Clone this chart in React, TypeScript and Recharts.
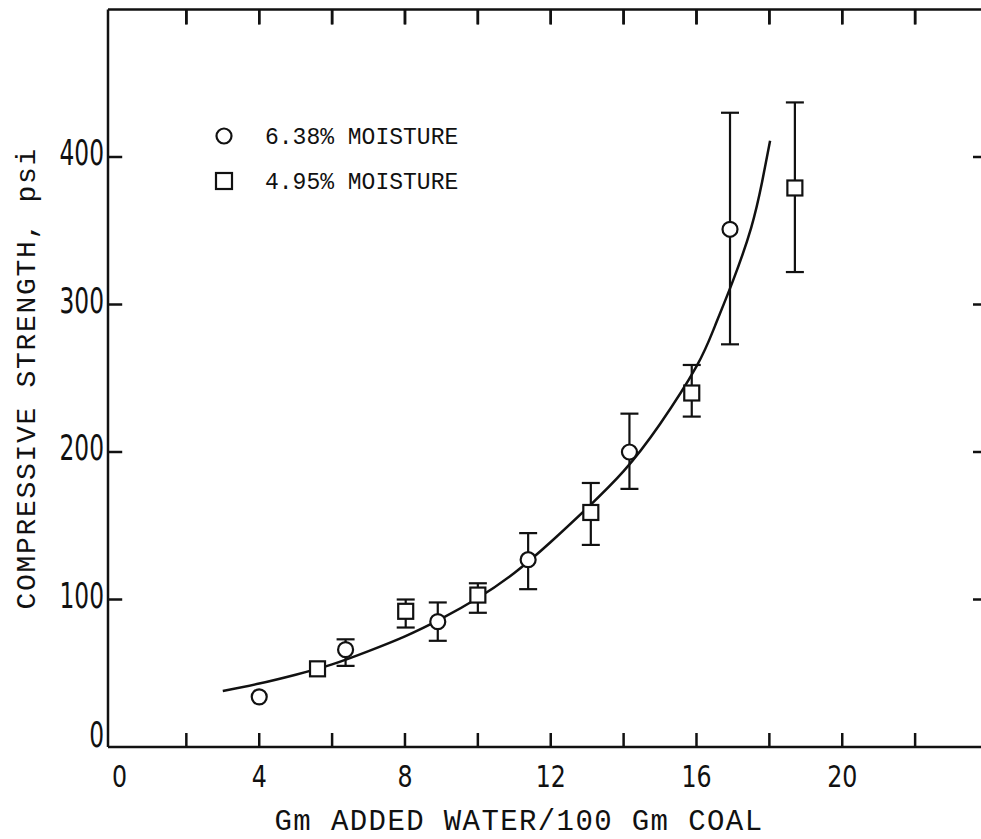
import React from "react";
import { ComposedChart, Line, Scatter, XAxis, YAxis, ErrorBar, Legend, Label, ReferenceLine } from "recharts";

// fitted curve
const CURVE_X = [3, 4, 5, 6, 7, 8, 9, 10, 11, 12, 13, 14, 15, 16, 16.5, 17, 17.5, 17.8, 18.02];
const CURVE_Y = [38, 43, 49, 56, 65, 75, 87, 101, 118, 139, 162, 187, 219, 258, 285, 316, 352, 383, 411];

// 6.38% moisture (circles)
const M638_X = [4.0, 6.37, 8.9, 11.38, 14.16, 16.92];
const M638_Y = [34, 66, 85, 127, 200, 351];
const M638_LOW = [null, 11, 13, 20, 25, 78];
const M638_HIGH = [null, 7, 13, 18, 26, 79];

// 4.95% moisture (squares)
const M495_X = [5.6, 8.02, 10.0, 13.1, 15.87, 18.7];
const M495_Y = [53, 92, 103, 159, 240, 379];
const M495_LOW = [null, 11, 12, 22, 16, 57];
const M495_HIGH = [null, 8, 8, 20, 19, 58];

const X_TICKS = [2, 4, 6, 8, 10, 12, 14, 16, 18, 20, 22];
const X_LABELS = [0, 4, 8, 12, 16, 20];
const Y_TICKS = [100, 200, 300, 400];
const Y_LABELS = [0, 100, 200, 300, 400];
const SERIES_NAMES = ["6.38% MOISTURE", "4.95% MOISTURE"];
const X_TITLE = "Gm ADDED WATER/100 Gm COAL";
const Y_TITLE = "COMPRESSIVE STRENGTH, psi";

const X_MIN = -0.15;
const X_MAX = 24;
const Y_MAX = 500;

const curve = CURVE_X.map((x, i) => ({ x, y: CURVE_Y[i] }));
const toPoints = (xs: number[], ys: number[], lo: (number | null)[], hi: (number | null)[]) =>
  xs.map((x, i) => ({ x, y: ys[i], err: lo[i] == null ? null : [lo[i], hi[i]] }));
const m638 = toPoints(M638_X, M638_Y, M638_LOW, M638_HIGH);
const m495 = toPoints(M495_X, M495_Y, M495_LOW, M495_HIGH);

const INK = "#111";
const NARROW = '"Liberation Sans Narrow", "DejaVu Sans Condensed", sans-serif';
const MONO = '"Liberation Mono", "DejaVu Sans Mono", monospace';
const TICK_LINE = { stroke: INK, strokeWidth: 2.5 };
const AXIS_LINE = { stroke: INK, strokeWidth: 2.5 };
// inward tick lengths in data units (~15 px)
const TOP_TICK_LEN = 10;
const LEFT_TICK_LEN = 0.39;

const CircleMark = (p: any) => (
  <circle cx={p.cx} cy={p.cy} r={7.5} fill="#fff" stroke={INK} strokeWidth={2.2} />
);
const SquareMark = (p: any) => (
  <rect x={p.cx - 7.5} y={p.cy - 7.5} width={15} height={15} fill="#fff" stroke={INK} strokeWidth={2.2} />
);

// bottom: inward tick mark + label (no mark at 0)
const BottomTick = (p: any) => {
  const x = Number(p.x);
  const y = Number(p.y);
  const v = p.payload.value;
  return (
    <g>
      {v !== 0 && <line x1={x} x2={x} y1={y} y2={y - 14} stroke={INK} strokeWidth={2.5} />}
      {X_LABELS.includes(v) && (
        <text transform={`translate(${x + (v === 0 ? 6 : 0)},${y + 40}) scale(0.85,1)`} textAnchor="middle"
          fontSize={31} fontFamily={NARROW} fill={INK}>{v}</text>
      )}
    </g>
  );
};

const LeftLabel = (p: any) => {
  const x = Number(p.x);
  const y = Number(p.y);
  const v = p.payload.value;
  return (
    <text transform={`translate(${x - 4},${v === 0 ? y : y + 8}) scale(0.72,1)`} textAnchor="end"
      fontSize={36} fontFamily={NARROW} fill={INK}>{v}</text>
  );
};

const Empty = () => <g />;

const LegendBox = () => (
  <svg width={300} height={80}>
    <circle cx={19} cy={18} r={7.5} fill="#fff" stroke={INK} strokeWidth={2.2} />
    <text x={60} y={26} fontSize={23} fontFamily={MONO} fill={INK}>{SERIES_NAMES[0]}</text>
    <rect x={11} y={55} width={16} height={16} fill="#fff" stroke={INK} strokeWidth={2.2} />
    <text x={60} y={71} fontSize={23} fontFamily={MONO} fill={INK}>{SERIES_NAMES[1]}</text>
  </svg>
);

const XTitle = (p: any) => {
  const vb = p.viewBox;
  return (
    <text x={vb.x + vb.width / 2 - 29} y={830} textAnchor="middle" fontSize={29} letterSpacing={1.4}
      fontFamily={MONO} fill={INK}>{X_TITLE}</text>
  );
};

const YTitle = (p: any) => {
  const vb = p.viewBox;
  const cy = vb.y + vb.height / 2;
  return (
    <text transform={`translate(35,${cy}) rotate(-90)`} textAnchor="middle" fontSize={28} letterSpacing={1.7}
      fontFamily={MONO} fill={INK}>{Y_TITLE}</text>
  );
};

export default function App() {
  return (
    <div style={{ position: "absolute", left: 0, top: 0, width: 981, height: 839, overflow: "hidden", background: "#fff" }}>
      <ComposedChart width={990} height={839} margin={{ top: 7.5, right: 0, bottom: 0, left: 8 }}>
        <XAxis xAxisId={0} dataKey="x" type="number" domain={[X_MIN, X_MAX]} ticks={[0, ...X_TICKS]} height={92}
          tickSize={0} tickMargin={0} tickLine={false} tick={<BottomTick />} interval={0}
          axisLine={AXIS_LINE}>
          <Label content={<XTitle />} />
        </XAxis>
        <XAxis xAxisId="top" orientation="top" dataKey="x" type="number" domain={[X_MIN, X_MAX]} ticks={X_TICKS}
          height={2} tickSize={-15} tickMargin={0} tickLine={TICK_LINE} tick={<Empty />} interval={0}
          axisLine={AXIS_LINE} />
        <YAxis yAxisId={0} type="number" domain={[0, Y_MAX]} ticks={Y_LABELS} width={100} tickSize={0}
          tickMargin={0} tickLine={false} tick={<LeftLabel />} interval={0} axisLine={AXIS_LINE}>
          <Label content={<YTitle />} />
        </YAxis>
        <YAxis yAxisId="right" orientation="right" type="number" domain={[0, Y_MAX]} ticks={Y_TICKS} width={2}
          tickSize={-15} tickMargin={0} tickLine={TICK_LINE} tick={<Empty />} interval={0}
          axisLine={AXIS_LINE} />
        <Legend layout="vertical" align="center" verticalAlign="middle" content={<LegendBox />}
          wrapperStyle={{ left: 205, top: 118, width: 300, height: 80 }} />
        {/* inward tick marks on the top and left frame */}
        {X_TICKS.map((t) => (
          <ReferenceLine key={`tt${t}`} ifOverflow="visible"
            segment={[{ x: t, y: Y_MAX }, { x: t, y: Y_MAX - TOP_TICK_LEN }]} stroke={INK} strokeWidth={2.5} />
        ))}
        {Y_TICKS.map((t) => (
          <ReferenceLine key={`lt${t}`} ifOverflow="visible"
            segment={[{ x: X_MIN, y: t }, { x: X_MIN + LEFT_TICK_LEN, y: t }]} stroke={INK} strokeWidth={2.5} />
        ))}
        {/* invisible copy of the curve so the top/right frame axes get a scale */}
        <Line xAxisId="top" yAxisId="right" data={curve} dataKey="y" stroke="none" dot={false}
          activeDot={false} legendType="none" isAnimationActive={false} />
        <Line data={curve} dataKey="y" type="natural" stroke={INK} strokeWidth={2.5} dot={false}
          activeDot={false} legendType="none" isAnimationActive={false} />
        <Scatter name={SERIES_NAMES[0]} data={m638} dataKey="y" shape={CircleMark} isAnimationActive={false}>
          <ErrorBar dataKey="err" direction="y" width={9} stroke={INK} strokeWidth={2.2} />
        </Scatter>
        <Scatter name={SERIES_NAMES[1]} data={m495} dataKey="y" shape={SquareMark} isAnimationActive={false}>
          <ErrorBar dataKey="err" direction="y" width={9} stroke={INK} strokeWidth={2.2} />
        </Scatter>
      </ComposedChart>
    </div>
  );
}
